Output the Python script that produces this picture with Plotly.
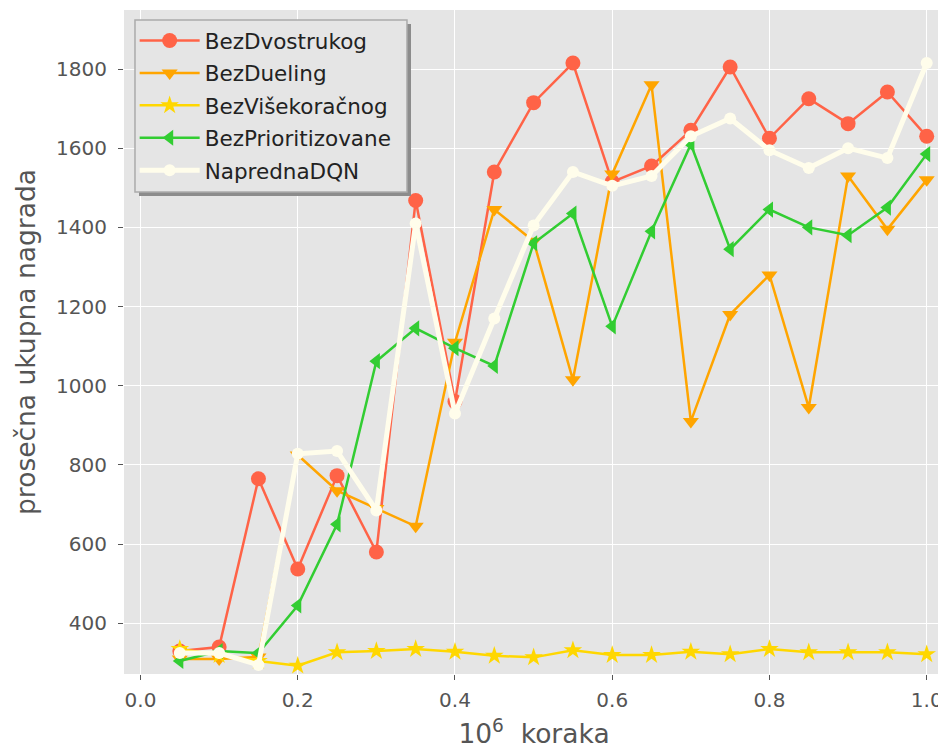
import plotly.graph_objects as go

x_steps = [0.05, 0.10, 0.15, 0.20, 0.25, 0.30, 0.35, 0.40, 0.45, 0.50,
           0.55, 0.60, 0.65, 0.70, 0.75, 0.80, 0.85, 0.90, 0.95, 1.00]

bez_dvostrukog = [330, 340, 765, 537, 773, 580, 1468, 960, 1540, 1715,
                  1815, 1515, 1555, 1645, 1805, 1625, 1725, 1662, 1742, 1630]
bez_dueling = [310, 310, 315, 825, 735, 690, 645, 1110, 1445, 1365,
               1015, 1535, 1760, 910, 1180, 1280, 945, 1530, 1395, 1520]
bez_visekoracnog = [335, 320, 305, 293, 327, 330, 335, 328, 318, 314,
                    332, 320, 320, 328, 322, 335, 327, 327, 327, 322]
bez_prioritizovane = [305, 330, 325, 445, 650, 1062, 1145, 1095, 1050, 1360,
                      1435, 1150, 1390, 1610, 1345, 1445, 1400, 1380, 1450, 1585]
napredna_dqn = [325, 325, 295, 828, 835, 685, 1410, 930, 1170, 1405,
                1540, 1505, 1530, 1630, 1675, 1595, 1550, 1600, 1575, 1815]

series = [
    ("BezDvostrukog", bez_dvostrukog, "#FF6347", "circle", 15, 2.5),
    ("BezDueling", bez_dueling, "#FFA500", "triangle-down", 14, 2.5),
    ("BezVišekoračnog", bez_visekoracnog, "#FFD700", "star", 14, 2.5),
    ("BezPrioritizovane", bez_prioritizovane, "#32CD32", "triangle-left", 14, 2.5),
    ("NaprednaDQN", napredna_dqn, "#FFFDEB", "circle", 12, 5),
]

fig = go.Figure()
for i, (name, vals, color, sym, msize, lw) in enumerate(series):
    fig.add_trace(go.Scatter(
        x=x_steps, y=vals, name=name, mode="lines+markers",
        line=dict(color=color, width=lw),
        marker=dict(symbol=sym, size=msize, color=color, line=dict(width=0)),
        legendgroup=f"g{i}",
    ))

tickfont = dict(family="DejaVu Sans", size=20, color="#555555")
titlefont = dict(family="DejaVu Sans", size=26.5, color="#555555")
fig.update_layout(
    width=938, height=746,
    margin=dict(l=116, r=2, t=2, b=80),
    paper_bgcolor="white",
    plot_bgcolor="#E5E5E5",
    font=dict(family="DejaVu Sans"),
    showlegend=True,
    legend=dict(
        x=0.013, y=0.985, xanchor="left", yanchor="top",
        bgcolor="rgba(0,0,0,0)", borderwidth=0,
        font=dict(family="DejaVu Sans", size=21.5, color="#222222"),
        tracegroupgap=1.5, itemwidth=60,
    ),
    xaxis=dict(
        range=[-0.021, 1.022],
        tickvals=[0.0, 0.2, 0.4, 0.6, 0.8, 1.0],
        ticktext=["0.0", "0.2", "0.4", "0.6", "0.8", "1.0"],
        showgrid=True, gridcolor="white", gridwidth=1.3,
        zeroline=False, showline=False,
        ticks="outside", ticklen=5, tickcolor="#555555", tickwidth=1,
        tickfont=tickfont, ticklabelstandoff=3,
        title=dict(text="10<sup>6</sup>  koraka", font=titlefont, standoff=13),
    ),
    yaxis=dict(
        range=[272, 1949],
        tickvals=[400, 600, 800, 1000, 1200, 1400, 1600, 1800],
        showgrid=True, gridcolor="white", gridwidth=1.3,
        zeroline=False, showline=False,
        ticks="outside", ticklen=5, tickcolor="#555555", tickwidth=1,
        tickfont=tickfont, ticklabelstandoff=7,
        title=dict(text="prosečna ukupna nagrada", font=titlefont, standoff=12),
    ),
    shapes=[
        dict(type="rect", xref="paper", yref="paper",
             x0=0.0183, x1=0.3500, y0=0.7199, y1=0.9789,
             fillcolor="#8C8C8C", line=dict(width=0), layer="above"),
        dict(type="rect", xref="paper", yref="paper",
             x0=0.0134, x1=0.3451, y0=0.7259, y1=0.9849,
             fillcolor="#E5E5E5", line=dict(width=1.5, color="#ABABAB"), layer="above"),
    ],
)

fig.write_html("out.html")
